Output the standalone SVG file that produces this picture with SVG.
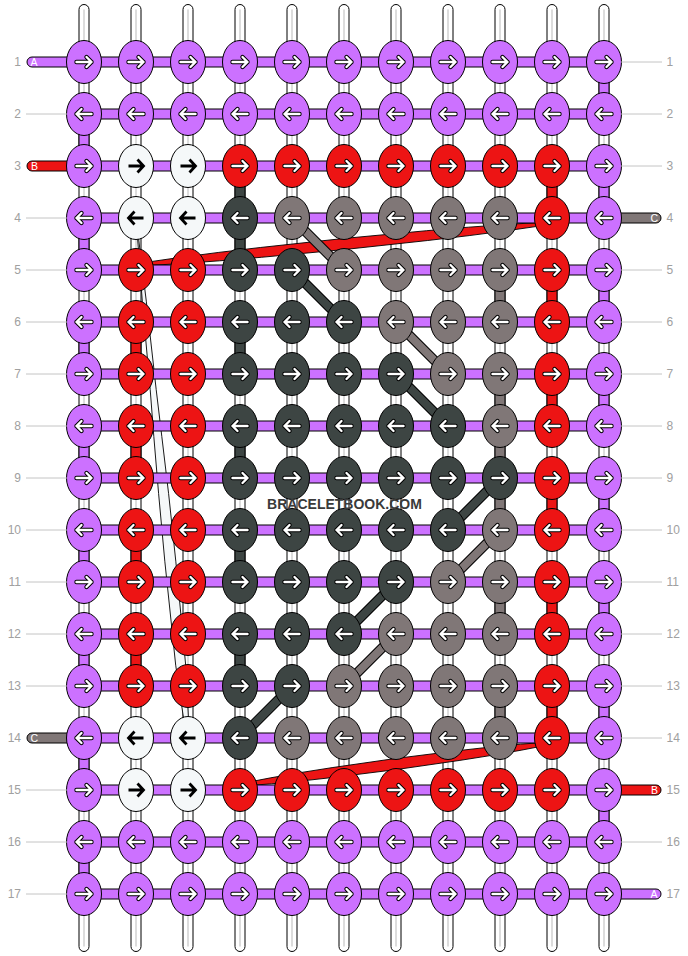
<svg xmlns="http://www.w3.org/2000/svg" width="688" height="956" viewBox="0 0 688 956">
<style>
.kP{fill:#cc71ff}.kR{fill:#ed1414}.kG{fill:#807777}.kD{fill:#3d4543}.kW{fill:#f5f8f9}
ellipse{stroke:#000;stroke-width:1}
.h{fill:#cc71ff;stroke:#000;stroke-width:1}
.hr{fill:#ed1414;stroke:#000;stroke-width:1}
.hg{fill:#807777;stroke:#000;stroke-width:1}
.pipe{fill:#fff;stroke:#000;stroke-width:1}
.pl{stroke:#d0d0d0;stroke-width:1.5}
.v{stroke:#000;stroke-width:1}
.num{font-family:"Liberation Sans",Arial,sans-serif;font-size:12px;fill:#a0a0a0}
.ln{stroke:#c4c4c4;stroke-width:1}
.lab{font-family:"Liberation Sans",Arial,sans-serif;font-size:10.5px;fill:#fff}
.wm{font-family:"Liberation Sans",Arial,sans-serif;font-size:14px;font-weight:bold;fill:#3a3a3a}
.bo{stroke:#000;stroke-width:10}
.bi{stroke-width:8}
.lens{stroke:#000;stroke-width:0.9}
.ao{stroke:#000;stroke-width:4.4;stroke-linecap:round;stroke-linejoin:round}
.ai{stroke:#fff;stroke-width:2.4;stroke-linecap:round;stroke-linejoin:round}
.ab{stroke:#000;stroke-width:2.8;fill:none}
</style>
<defs>
<path id="a" d="M-7.5,0H7.5M2.5,-5L7.5,0L2.5,5" fill="none"/>
<path id="b" d="M-7.5,0H7M1.5,-6.5L7.5,0L1.5,6.5" fill="none"/>
<g id="ar"><use href="#a" class="ao"/><use href="#a" class="ai"/></g>
<g id="al" transform="scale(-1,1)"><use href="#a" class="ao"/><use href="#a" class="ai"/></g>
<g id="br"><use href="#b" class="ab"/></g>
<g id="bl" transform="scale(-1,1)"><use href="#b" class="ab"/></g>
</defs>

<g id="warps">
<rect class="pipe" x="79" y="4.5" width="10" height="947" rx="5"/><line class="pl" x1="84" y1="9.5" x2="84" y2="946.5"/>
<rect class="pipe" x="131" y="4.5" width="10" height="947" rx="5"/><line class="pl" x1="136" y1="9.5" x2="136" y2="946.5"/>
<rect class="pipe" x="183" y="4.5" width="10" height="947" rx="5"/><line class="pl" x1="188" y1="9.5" x2="188" y2="946.5"/>
<rect class="pipe" x="235" y="4.5" width="10" height="947" rx="5"/><line class="pl" x1="240" y1="9.5" x2="240" y2="946.5"/>
<rect class="pipe" x="287" y="4.5" width="10" height="947" rx="5"/><line class="pl" x1="292" y1="9.5" x2="292" y2="946.5"/>
<rect class="pipe" x="339" y="4.5" width="10" height="947" rx="5"/><line class="pl" x1="344" y1="9.5" x2="344" y2="946.5"/>
<rect class="pipe" x="391" y="4.5" width="10" height="947" rx="5"/><line class="pl" x1="396" y1="9.5" x2="396" y2="946.5"/>
<rect class="pipe" x="443" y="4.5" width="10" height="947" rx="5"/><line class="pl" x1="448" y1="9.5" x2="448" y2="946.5"/>
<rect class="pipe" x="495" y="4.5" width="10" height="947" rx="5"/><line class="pl" x1="500" y1="9.5" x2="500" y2="946.5"/>
<rect class="pipe" x="547" y="4.5" width="10" height="947" rx="5"/><line class="pl" x1="552" y1="9.5" x2="552" y2="946.5"/>
<rect class="pipe" x="599" y="4.5" width="10" height="947" rx="5"/><line class="pl" x1="604" y1="9.5" x2="604" y2="946.5"/>
</g>

<g id="connectors">
<g fill="#cc71ff" class="v">
<rect x="599" y="77" width="10" height="22"/><rect x="599" y="181" width="10" height="22"/><rect x="599" y="285" width="10" height="22"/><rect x="599" y="389" width="10" height="22"/><rect x="599" y="493" width="10" height="22"/><rect x="599" y="597" width="10" height="22"/><rect x="599" y="701" width="10" height="22"/><rect x="599" y="805" width="10" height="22"/>
<rect x="79" y="129" width="10" height="22"/><rect x="79" y="233" width="10" height="22"/><rect x="79" y="337" width="10" height="22"/><rect x="79" y="441" width="10" height="22"/><rect x="79" y="545" width="10" height="22"/><rect x="79" y="649" width="10" height="22"/><rect x="79" y="753" width="10" height="22"/><rect x="79" y="857" width="10" height="22"/>
</g>
<g fill="#ed1414" class="v">
<rect x="547" y="181" width="10" height="22"/><rect x="547" y="285" width="10" height="22"/><rect x="547" y="389" width="10" height="22"/><rect x="547" y="493" width="10" height="22"/><rect x="547" y="597" width="10" height="22"/><rect x="547" y="701" width="10" height="22"/>
<rect x="131" y="337" width="10" height="22"/><rect x="131" y="441" width="10" height="22"/><rect x="131" y="545" width="10" height="22"/><rect x="131" y="649" width="10" height="22"/>
</g>
<g fill="#3d4543" class="v">
<rect x="235" y="181" width="10" height="22"/><rect x="235" y="233" width="10" height="22"/><rect x="235" y="337" width="10" height="22"/><rect x="235" y="441" width="10" height="22"/><rect x="235" y="545" width="10" height="22"/><rect x="235" y="649" width="10" height="22"/>
</g>
<g fill="#807777" class="v">
<rect x="495" y="285" width="10" height="22"/><rect x="495" y="389" width="10" height="22"/><rect x="495" y="441" width="10" height="22"/><rect x="495" y="493" width="10" height="22"/><rect x="495" y="597" width="10" height="22"/><rect x="495" y="701" width="10" height="22"/>
</g>

<g transform="translate(0,1)">
<path class="lens" fill="#f5f8f9" d="M136,217 L137.6,237.8 L142.3,300.2 L150.2,388.6 L153.8,435.4 L158.6,492.6 L164.8,560.2 L175.7,664.2 L183.4,716.2 L188,737 L188.4,716.2 L185.7,664.2 L175.8,560.2 L168.6,492.6 L161.8,435.4 L156.2,388.6 L146.3,300.2 L138.6,237.8 Z"/>
<path class="lens" fill="#ed1414" d="M136,264 L152.4,260.4 L177.3,256.8 L218.8,251.4 L260.3,246.5 L343.4,237.5 L426.7,229.7 L468.4,226.2 L510.1,223.2 L535.2,221.8 L552,222 L535.6,225.6 L510.7,229.2 L469.2,234.6 L427.7,239.5 L344.6,248.5 L261.3,256.3 L219.6,259.8 L177.9,262.8 L152.8,264.2 Z"/>
<path class="lens" fill="#ed1414" d="M240,784 L252.2,780.4 L270.8,776.8 L301.8,771.4 L332.9,766.5 L395.3,757.5 L457.7,749.7 L489,746.2 L520.4,743.2 L539.2,741.8 L552,742 L539.8,745.6 L521.2,749.2 L490.2,754.6 L459.1,759.5 L396.7,768.5 L334.3,776.3 L303,779.8 L271.6,782.8 L252.8,784.2 Z"/>
</g>

<g class="bo">
<line x1="292" y1="218" x2="344" y2="270"/><line x1="396" y1="322" x2="448" y2="374"/>
<line x1="292" y1="270" x2="344" y2="322"/><line x1="396" y1="374" x2="448" y2="426"/>
<line x1="500" y1="478" x2="448" y2="530"/><line x1="396" y1="582" x2="344" y2="634"/><line x1="292" y1="686" x2="240" y2="738"/>
<line x1="500" y1="530" x2="448" y2="582"/><line x1="396" y1="634" x2="344" y2="686"/>
</g>
<g class="bi" stroke="#807777">
<line x1="292" y1="218" x2="344" y2="270"/><line x1="396" y1="322" x2="448" y2="374"/>
<line x1="500" y1="530" x2="448" y2="582"/><line x1="396" y1="634" x2="344" y2="686"/>
</g>
<g class="bi" stroke="#3d4543">
<line x1="292" y1="270" x2="344" y2="322"/><line x1="396" y1="374" x2="448" y2="426"/>
<line x1="500" y1="478" x2="448" y2="530"/><line x1="396" y1="582" x2="344" y2="634"/><line x1="292" y1="686" x2="240" y2="738"/>
</g>

<g id="rows">
<rect class="h" x="84" y="57" width="520" height="10"/>
<rect class="h" x="84" y="109" width="520" height="10"/>
<rect class="h" x="84" y="161" width="520" height="10"/>
<rect class="h" x="84" y="213" width="520" height="10"/>
<rect class="h" x="84" y="265" width="520" height="10"/>
<rect class="h" x="84" y="317" width="520" height="10"/>
<rect class="h" x="84" y="369" width="520" height="10"/>
<rect class="h" x="84" y="421" width="520" height="10"/>
<rect class="h" x="84" y="473" width="520" height="10"/>
<rect class="h" x="84" y="525" width="520" height="10"/>
<rect class="h" x="84" y="577" width="520" height="10"/>
<rect class="h" x="84" y="629" width="520" height="10"/>
<rect class="h" x="84" y="681" width="520" height="10"/>
<rect class="h" x="84" y="733" width="520" height="10"/>
<rect class="h" x="84" y="785" width="520" height="10"/>
<rect class="h" x="84" y="837" width="520" height="10"/>
<rect class="h" x="84" y="889" width="520" height="10"/>
</g>
<g id="stubs">
<rect class="h" x="27" y="57" width="50" height="10" rx="5"/>
<rect class="hr" x="27" y="161" width="50" height="10" rx="5"/>
<rect class="hg" x="27" y="733" width="50" height="10" rx="5"/>
<rect class="hg" x="611" y="213" width="50" height="10" rx="5"/>
<rect class="hr" x="611" y="785" width="50" height="10" rx="5"/>
<rect class="h" x="611" y="889" width="50" height="10" rx="5"/>
</g>
</g>

<g id="knots">
<g id="k1-1"><ellipse class="kP" cx="84" cy="62" rx="17.5" ry="21.5"/><use href="#ar" x="84" y="62"/></g>
<g id="k1-2"><ellipse class="kP" cx="136" cy="62" rx="17.5" ry="21.5"/><use href="#ar" x="136" y="62"/></g>
<g id="k1-3"><ellipse class="kP" cx="188" cy="62" rx="17.5" ry="21.5"/><use href="#ar" x="188" y="62"/></g>
<g id="k1-4"><ellipse class="kP" cx="240" cy="62" rx="17.5" ry="21.5"/><use href="#ar" x="240" y="62"/></g>
<g id="k1-5"><ellipse class="kP" cx="292" cy="62" rx="17.5" ry="21.5"/><use href="#ar" x="292" y="62"/></g>
<g id="k1-6"><ellipse class="kP" cx="344" cy="62" rx="17.5" ry="21.5"/><use href="#ar" x="344" y="62"/></g>
<g id="k1-7"><ellipse class="kP" cx="396" cy="62" rx="17.5" ry="21.5"/><use href="#ar" x="396" y="62"/></g>
<g id="k1-8"><ellipse class="kP" cx="448" cy="62" rx="17.5" ry="21.5"/><use href="#ar" x="448" y="62"/></g>
<g id="k1-9"><ellipse class="kP" cx="500" cy="62" rx="17.5" ry="21.5"/><use href="#ar" x="500" y="62"/></g>
<g id="k1-10"><ellipse class="kP" cx="552" cy="62" rx="17.5" ry="21.5"/><use href="#ar" x="552" y="62"/></g>
<g id="k1-11"><ellipse class="kP" cx="604" cy="62" rx="17.5" ry="21.5"/><use href="#ar" x="604" y="62"/></g>

<g id="k2-1"><ellipse class="kP" cx="84" cy="114" rx="17.5" ry="21.5"/><use href="#al" x="84" y="114"/></g>
<g id="k2-2"><ellipse class="kP" cx="136" cy="114" rx="17.5" ry="21.5"/><use href="#al" x="136" y="114"/></g>
<g id="k2-3"><ellipse class="kP" cx="188" cy="114" rx="17.5" ry="21.5"/><use href="#al" x="188" y="114"/></g>
<g id="k2-4"><ellipse class="kP" cx="240" cy="114" rx="17.5" ry="21.5"/><use href="#al" x="240" y="114"/></g>
<g id="k2-5"><ellipse class="kP" cx="292" cy="114" rx="17.5" ry="21.5"/><use href="#al" x="292" y="114"/></g>
<g id="k2-6"><ellipse class="kP" cx="344" cy="114" rx="17.5" ry="21.5"/><use href="#al" x="344" y="114"/></g>
<g id="k2-7"><ellipse class="kP" cx="396" cy="114" rx="17.5" ry="21.5"/><use href="#al" x="396" y="114"/></g>
<g id="k2-8"><ellipse class="kP" cx="448" cy="114" rx="17.5" ry="21.5"/><use href="#al" x="448" y="114"/></g>
<g id="k2-9"><ellipse class="kP" cx="500" cy="114" rx="17.5" ry="21.5"/><use href="#al" x="500" y="114"/></g>
<g id="k2-10"><ellipse class="kP" cx="552" cy="114" rx="17.5" ry="21.5"/><use href="#al" x="552" y="114"/></g>
<g id="k2-11"><ellipse class="kP" cx="604" cy="114" rx="17.5" ry="21.5"/><use href="#al" x="604" y="114"/></g>

<g id="k3-1"><ellipse class="kP" cx="84" cy="166" rx="17.5" ry="21.5"/><use href="#ar" x="84" y="166"/></g>
<g id="k3-2"><ellipse class="kW" cx="136" cy="166" rx="17.5" ry="21.5"/><use href="#br" x="136" y="166"/></g>
<g id="k3-3"><ellipse class="kW" cx="188" cy="166" rx="17.5" ry="21.5"/><use href="#br" x="188" y="166"/></g>
<g id="k3-4"><ellipse class="kR" cx="240" cy="166" rx="17.5" ry="21.5"/><use href="#ar" x="240" y="166"/></g>
<g id="k3-5"><ellipse class="kR" cx="292" cy="166" rx="17.5" ry="21.5"/><use href="#ar" x="292" y="166"/></g>
<g id="k3-6"><ellipse class="kR" cx="344" cy="166" rx="17.5" ry="21.5"/><use href="#ar" x="344" y="166"/></g>
<g id="k3-7"><ellipse class="kR" cx="396" cy="166" rx="17.5" ry="21.5"/><use href="#ar" x="396" y="166"/></g>
<g id="k3-8"><ellipse class="kR" cx="448" cy="166" rx="17.5" ry="21.5"/><use href="#ar" x="448" y="166"/></g>
<g id="k3-9"><ellipse class="kR" cx="500" cy="166" rx="17.5" ry="21.5"/><use href="#ar" x="500" y="166"/></g>
<g id="k3-10"><ellipse class="kR" cx="552" cy="166" rx="17.5" ry="21.5"/><use href="#ar" x="552" y="166"/></g>
<g id="k3-11"><ellipse class="kP" cx="604" cy="166" rx="17.5" ry="21.5"/><use href="#ar" x="604" y="166"/></g>

<g id="k4-1"><ellipse class="kP" cx="84" cy="218" rx="17.5" ry="21.5"/><use href="#al" x="84" y="218"/></g>
<g id="k4-2"><ellipse class="kW" cx="136" cy="218" rx="17.5" ry="21.5"/><use href="#bl" x="136" y="218"/></g>
<g id="k4-3"><ellipse class="kW" cx="188" cy="218" rx="17.5" ry="21.5"/><use href="#bl" x="188" y="218"/></g>
<g id="k4-4"><ellipse class="kD" cx="240" cy="218" rx="17.5" ry="21.5"/><use href="#al" x="240" y="218"/></g>
<g id="k4-5"><ellipse class="kG" cx="292" cy="218" rx="17.5" ry="21.5"/><use href="#al" x="292" y="218"/></g>
<g id="k4-6"><ellipse class="kG" cx="344" cy="218" rx="17.5" ry="21.5"/><use href="#al" x="344" y="218"/></g>
<g id="k4-7"><ellipse class="kG" cx="396" cy="218" rx="17.5" ry="21.5"/><use href="#al" x="396" y="218"/></g>
<g id="k4-8"><ellipse class="kG" cx="448" cy="218" rx="17.5" ry="21.5"/><use href="#al" x="448" y="218"/></g>
<g id="k4-9"><ellipse class="kG" cx="500" cy="218" rx="17.5" ry="21.5"/><use href="#al" x="500" y="218"/></g>
<g id="k4-10"><ellipse class="kR" cx="552" cy="218" rx="17.5" ry="21.5"/><use href="#al" x="552" y="218"/></g>
<g id="k4-11"><ellipse class="kP" cx="604" cy="218" rx="17.5" ry="21.5"/><use href="#al" x="604" y="218"/></g>

<g id="k5-1"><ellipse class="kP" cx="84" cy="270" rx="17.5" ry="21.5"/><use href="#ar" x="84" y="270"/></g>
<g id="k5-2"><ellipse class="kR" cx="136" cy="270" rx="17.5" ry="21.5"/><use href="#ar" x="136" y="270"/></g>
<g id="k5-3"><ellipse class="kR" cx="188" cy="270" rx="17.5" ry="21.5"/><use href="#ar" x="188" y="270"/></g>
<g id="k5-4"><ellipse class="kD" cx="240" cy="270" rx="17.5" ry="21.5"/><use href="#ar" x="240" y="270"/></g>
<g id="k5-5"><ellipse class="kD" cx="292" cy="270" rx="17.5" ry="21.5"/><use href="#ar" x="292" y="270"/></g>
<g id="k5-6"><ellipse class="kG" cx="344" cy="270" rx="17.5" ry="21.5"/><use href="#ar" x="344" y="270"/></g>
<g id="k5-7"><ellipse class="kG" cx="396" cy="270" rx="17.5" ry="21.5"/><use href="#ar" x="396" y="270"/></g>
<g id="k5-8"><ellipse class="kG" cx="448" cy="270" rx="17.5" ry="21.5"/><use href="#ar" x="448" y="270"/></g>
<g id="k5-9"><ellipse class="kG" cx="500" cy="270" rx="17.5" ry="21.5"/><use href="#ar" x="500" y="270"/></g>
<g id="k5-10"><ellipse class="kR" cx="552" cy="270" rx="17.5" ry="21.5"/><use href="#ar" x="552" y="270"/></g>
<g id="k5-11"><ellipse class="kP" cx="604" cy="270" rx="17.5" ry="21.5"/><use href="#ar" x="604" y="270"/></g>

<g id="k6-1"><ellipse class="kP" cx="84" cy="322" rx="17.5" ry="21.5"/><use href="#al" x="84" y="322"/></g>
<g id="k6-2"><ellipse class="kR" cx="136" cy="322" rx="17.5" ry="21.5"/><use href="#al" x="136" y="322"/></g>
<g id="k6-3"><ellipse class="kR" cx="188" cy="322" rx="17.5" ry="21.5"/><use href="#al" x="188" y="322"/></g>
<g id="k6-4"><ellipse class="kD" cx="240" cy="322" rx="17.5" ry="21.5"/><use href="#al" x="240" y="322"/></g>
<g id="k6-5"><ellipse class="kD" cx="292" cy="322" rx="17.5" ry="21.5"/><use href="#al" x="292" y="322"/></g>
<g id="k6-6"><ellipse class="kD" cx="344" cy="322" rx="17.5" ry="21.5"/><use href="#al" x="344" y="322"/></g>
<g id="k6-7"><ellipse class="kG" cx="396" cy="322" rx="17.5" ry="21.5"/><use href="#al" x="396" y="322"/></g>
<g id="k6-8"><ellipse class="kG" cx="448" cy="322" rx="17.5" ry="21.5"/><use href="#al" x="448" y="322"/></g>
<g id="k6-9"><ellipse class="kG" cx="500" cy="322" rx="17.5" ry="21.5"/><use href="#al" x="500" y="322"/></g>
<g id="k6-10"><ellipse class="kR" cx="552" cy="322" rx="17.5" ry="21.5"/><use href="#al" x="552" y="322"/></g>
<g id="k6-11"><ellipse class="kP" cx="604" cy="322" rx="17.5" ry="21.5"/><use href="#al" x="604" y="322"/></g>

<g id="k7-1"><ellipse class="kP" cx="84" cy="374" rx="17.5" ry="21.5"/><use href="#ar" x="84" y="374"/></g>
<g id="k7-2"><ellipse class="kR" cx="136" cy="374" rx="17.5" ry="21.5"/><use href="#ar" x="136" y="374"/></g>
<g id="k7-3"><ellipse class="kR" cx="188" cy="374" rx="17.5" ry="21.5"/><use href="#ar" x="188" y="374"/></g>
<g id="k7-4"><ellipse class="kD" cx="240" cy="374" rx="17.5" ry="21.5"/><use href="#ar" x="240" y="374"/></g>
<g id="k7-5"><ellipse class="kD" cx="292" cy="374" rx="17.5" ry="21.5"/><use href="#ar" x="292" y="374"/></g>
<g id="k7-6"><ellipse class="kD" cx="344" cy="374" rx="17.5" ry="21.5"/><use href="#ar" x="344" y="374"/></g>
<g id="k7-7"><ellipse class="kD" cx="396" cy="374" rx="17.5" ry="21.5"/><use href="#ar" x="396" y="374"/></g>
<g id="k7-8"><ellipse class="kG" cx="448" cy="374" rx="17.5" ry="21.5"/><use href="#ar" x="448" y="374"/></g>
<g id="k7-9"><ellipse class="kG" cx="500" cy="374" rx="17.5" ry="21.5"/><use href="#ar" x="500" y="374"/></g>
<g id="k7-10"><ellipse class="kR" cx="552" cy="374" rx="17.5" ry="21.5"/><use href="#ar" x="552" y="374"/></g>
<g id="k7-11"><ellipse class="kP" cx="604" cy="374" rx="17.5" ry="21.5"/><use href="#ar" x="604" y="374"/></g>

<g id="k8-1"><ellipse class="kP" cx="84" cy="426" rx="17.5" ry="21.5"/><use href="#al" x="84" y="426"/></g>
<g id="k8-2"><ellipse class="kR" cx="136" cy="426" rx="17.5" ry="21.5"/><use href="#al" x="136" y="426"/></g>
<g id="k8-3"><ellipse class="kR" cx="188" cy="426" rx="17.5" ry="21.5"/><use href="#al" x="188" y="426"/></g>
<g id="k8-4"><ellipse class="kD" cx="240" cy="426" rx="17.5" ry="21.5"/><use href="#al" x="240" y="426"/></g>
<g id="k8-5"><ellipse class="kD" cx="292" cy="426" rx="17.5" ry="21.5"/><use href="#al" x="292" y="426"/></g>
<g id="k8-6"><ellipse class="kD" cx="344" cy="426" rx="17.5" ry="21.5"/><use href="#al" x="344" y="426"/></g>
<g id="k8-7"><ellipse class="kD" cx="396" cy="426" rx="17.5" ry="21.5"/><use href="#al" x="396" y="426"/></g>
<g id="k8-8"><ellipse class="kD" cx="448" cy="426" rx="17.5" ry="21.5"/><use href="#al" x="448" y="426"/></g>
<g id="k8-9"><ellipse class="kG" cx="500" cy="426" rx="17.5" ry="21.5"/><use href="#al" x="500" y="426"/></g>
<g id="k8-10"><ellipse class="kR" cx="552" cy="426" rx="17.5" ry="21.5"/><use href="#al" x="552" y="426"/></g>
<g id="k8-11"><ellipse class="kP" cx="604" cy="426" rx="17.5" ry="21.5"/><use href="#al" x="604" y="426"/></g>

<g id="k9-1"><ellipse class="kP" cx="84" cy="478" rx="17.5" ry="21.5"/><use href="#ar" x="84" y="478"/></g>
<g id="k9-2"><ellipse class="kR" cx="136" cy="478" rx="17.5" ry="21.5"/><use href="#ar" x="136" y="478"/></g>
<g id="k9-3"><ellipse class="kR" cx="188" cy="478" rx="17.5" ry="21.5"/><use href="#ar" x="188" y="478"/></g>
<g id="k9-4"><ellipse class="kD" cx="240" cy="478" rx="17.5" ry="21.5"/><use href="#ar" x="240" y="478"/></g>
<g id="k9-5"><ellipse class="kD" cx="292" cy="478" rx="17.5" ry="21.5"/><use href="#ar" x="292" y="478"/></g>
<g id="k9-6"><ellipse class="kD" cx="344" cy="478" rx="17.5" ry="21.5"/><use href="#ar" x="344" y="478"/></g>
<g id="k9-7"><ellipse class="kD" cx="396" cy="478" rx="17.5" ry="21.5"/><use href="#ar" x="396" y="478"/></g>
<g id="k9-8"><ellipse class="kD" cx="448" cy="478" rx="17.5" ry="21.5"/><use href="#ar" x="448" y="478"/></g>
<g id="k9-9"><ellipse class="kD" cx="500" cy="478" rx="17.5" ry="21.5"/><use href="#ar" x="500" y="478"/></g>
<g id="k9-10"><ellipse class="kR" cx="552" cy="478" rx="17.5" ry="21.5"/><use href="#ar" x="552" y="478"/></g>
<g id="k9-11"><ellipse class="kP" cx="604" cy="478" rx="17.5" ry="21.5"/><use href="#ar" x="604" y="478"/></g>

<g id="k10-1"><ellipse class="kP" cx="84" cy="530" rx="17.5" ry="21.5"/><use href="#al" x="84" y="530"/></g>
<g id="k10-2"><ellipse class="kR" cx="136" cy="530" rx="17.5" ry="21.5"/><use href="#al" x="136" y="530"/></g>
<g id="k10-3"><ellipse class="kR" cx="188" cy="530" rx="17.5" ry="21.5"/><use href="#al" x="188" y="530"/></g>
<g id="k10-4"><ellipse class="kD" cx="240" cy="530" rx="17.5" ry="21.5"/><use href="#al" x="240" y="530"/></g>
<g id="k10-5"><ellipse class="kD" cx="292" cy="530" rx="17.5" ry="21.5"/><use href="#al" x="292" y="530"/></g>
<g id="k10-6"><ellipse class="kD" cx="344" cy="530" rx="17.5" ry="21.5"/><use href="#al" x="344" y="530"/></g>
<g id="k10-7"><ellipse class="kD" cx="396" cy="530" rx="17.5" ry="21.5"/><use href="#al" x="396" y="530"/></g>
<g id="k10-8"><ellipse class="kD" cx="448" cy="530" rx="17.5" ry="21.5"/><use href="#al" x="448" y="530"/></g>
<g id="k10-9"><ellipse class="kG" cx="500" cy="530" rx="17.5" ry="21.5"/><use href="#al" x="500" y="530"/></g>
<g id="k10-10"><ellipse class="kR" cx="552" cy="530" rx="17.5" ry="21.5"/><use href="#al" x="552" y="530"/></g>
<g id="k10-11"><ellipse class="kP" cx="604" cy="530" rx="17.5" ry="21.5"/><use href="#al" x="604" y="530"/></g>

<g id="k11-1"><ellipse class="kP" cx="84" cy="582" rx="17.5" ry="21.5"/><use href="#ar" x="84" y="582"/></g>
<g id="k11-2"><ellipse class="kR" cx="136" cy="582" rx="17.5" ry="21.5"/><use href="#ar" x="136" y="582"/></g>
<g id="k11-3"><ellipse class="kR" cx="188" cy="582" rx="17.5" ry="21.5"/><use href="#ar" x="188" y="582"/></g>
<g id="k11-4"><ellipse class="kD" cx="240" cy="582" rx="17.5" ry="21.5"/><use href="#ar" x="240" y="582"/></g>
<g id="k11-5"><ellipse class="kD" cx="292" cy="582" rx="17.5" ry="21.5"/><use href="#ar" x="292" y="582"/></g>
<g id="k11-6"><ellipse class="kD" cx="344" cy="582" rx="17.5" ry="21.5"/><use href="#ar" x="344" y="582"/></g>
<g id="k11-7"><ellipse class="kD" cx="396" cy="582" rx="17.5" ry="21.5"/><use href="#ar" x="396" y="582"/></g>
<g id="k11-8"><ellipse class="kG" cx="448" cy="582" rx="17.5" ry="21.5"/><use href="#ar" x="448" y="582"/></g>
<g id="k11-9"><ellipse class="kG" cx="500" cy="582" rx="17.5" ry="21.5"/><use href="#ar" x="500" y="582"/></g>
<g id="k11-10"><ellipse class="kR" cx="552" cy="582" rx="17.5" ry="21.5"/><use href="#ar" x="552" y="582"/></g>
<g id="k11-11"><ellipse class="kP" cx="604" cy="582" rx="17.5" ry="21.5"/><use href="#ar" x="604" y="582"/></g>

<g id="k12-1"><ellipse class="kP" cx="84" cy="634" rx="17.5" ry="21.5"/><use href="#al" x="84" y="634"/></g>
<g id="k12-2"><ellipse class="kR" cx="136" cy="634" rx="17.5" ry="21.5"/><use href="#al" x="136" y="634"/></g>
<g id="k12-3"><ellipse class="kR" cx="188" cy="634" rx="17.5" ry="21.5"/><use href="#al" x="188" y="634"/></g>
<g id="k12-4"><ellipse class="kD" cx="240" cy="634" rx="17.5" ry="21.5"/><use href="#al" x="240" y="634"/></g>
<g id="k12-5"><ellipse class="kD" cx="292" cy="634" rx="17.5" ry="21.5"/><use href="#al" x="292" y="634"/></g>
<g id="k12-6"><ellipse class="kD" cx="344" cy="634" rx="17.5" ry="21.5"/><use href="#al" x="344" y="634"/></g>
<g id="k12-7"><ellipse class="kG" cx="396" cy="634" rx="17.5" ry="21.5"/><use href="#al" x="396" y="634"/></g>
<g id="k12-8"><ellipse class="kG" cx="448" cy="634" rx="17.5" ry="21.5"/><use href="#al" x="448" y="634"/></g>
<g id="k12-9"><ellipse class="kG" cx="500" cy="634" rx="17.5" ry="21.5"/><use href="#al" x="500" y="634"/></g>
<g id="k12-10"><ellipse class="kR" cx="552" cy="634" rx="17.5" ry="21.5"/><use href="#al" x="552" y="634"/></g>
<g id="k12-11"><ellipse class="kP" cx="604" cy="634" rx="17.5" ry="21.5"/><use href="#al" x="604" y="634"/></g>

<g id="k13-1"><ellipse class="kP" cx="84" cy="686" rx="17.5" ry="21.5"/><use href="#ar" x="84" y="686"/></g>
<g id="k13-2"><ellipse class="kR" cx="136" cy="686" rx="17.5" ry="21.5"/><use href="#ar" x="136" y="686"/></g>
<g id="k13-3"><ellipse class="kR" cx="188" cy="686" rx="17.5" ry="21.5"/><use href="#ar" x="188" y="686"/></g>
<g id="k13-4"><ellipse class="kD" cx="240" cy="686" rx="17.5" ry="21.5"/><use href="#ar" x="240" y="686"/></g>
<g id="k13-5"><ellipse class="kD" cx="292" cy="686" rx="17.5" ry="21.5"/><use href="#ar" x="292" y="686"/></g>
<g id="k13-6"><ellipse class="kG" cx="344" cy="686" rx="17.5" ry="21.5"/><use href="#ar" x="344" y="686"/></g>
<g id="k13-7"><ellipse class="kG" cx="396" cy="686" rx="17.5" ry="21.5"/><use href="#ar" x="396" y="686"/></g>
<g id="k13-8"><ellipse class="kG" cx="448" cy="686" rx="17.5" ry="21.5"/><use href="#ar" x="448" y="686"/></g>
<g id="k13-9"><ellipse class="kG" cx="500" cy="686" rx="17.5" ry="21.5"/><use href="#ar" x="500" y="686"/></g>
<g id="k13-10"><ellipse class="kR" cx="552" cy="686" rx="17.5" ry="21.5"/><use href="#ar" x="552" y="686"/></g>
<g id="k13-11"><ellipse class="kP" cx="604" cy="686" rx="17.5" ry="21.5"/><use href="#ar" x="604" y="686"/></g>

<g id="k14-1"><ellipse class="kP" cx="84" cy="738" rx="17.5" ry="21.5"/><use href="#al" x="84" y="738"/></g>
<g id="k14-2"><ellipse class="kW" cx="136" cy="738" rx="17.5" ry="21.5"/><use href="#bl" x="136" y="738"/></g>
<g id="k14-3"><ellipse class="kW" cx="188" cy="738" rx="17.5" ry="21.5"/><use href="#bl" x="188" y="738"/></g>
<g id="k14-4"><ellipse class="kD" cx="240" cy="738" rx="17.5" ry="21.5"/><use href="#al" x="240" y="738"/></g>
<g id="k14-5"><ellipse class="kG" cx="292" cy="738" rx="17.5" ry="21.5"/><use href="#al" x="292" y="738"/></g>
<g id="k14-6"><ellipse class="kG" cx="344" cy="738" rx="17.5" ry="21.5"/><use href="#al" x="344" y="738"/></g>
<g id="k14-7"><ellipse class="kG" cx="396" cy="738" rx="17.5" ry="21.5"/><use href="#al" x="396" y="738"/></g>
<g id="k14-8"><ellipse class="kG" cx="448" cy="738" rx="17.5" ry="21.5"/><use href="#al" x="448" y="738"/></g>
<g id="k14-9"><ellipse class="kG" cx="500" cy="738" rx="17.5" ry="21.5"/><use href="#al" x="500" y="738"/></g>
<g id="k14-10"><ellipse class="kR" cx="552" cy="738" rx="17.5" ry="21.5"/><use href="#al" x="552" y="738"/></g>
<g id="k14-11"><ellipse class="kP" cx="604" cy="738" rx="17.5" ry="21.5"/><use href="#al" x="604" y="738"/></g>

<g id="k15-1"><ellipse class="kP" cx="84" cy="790" rx="17.5" ry="21.5"/><use href="#ar" x="84" y="790"/></g>
<g id="k15-2"><ellipse class="kW" cx="136" cy="790" rx="17.5" ry="21.5"/><use href="#br" x="136" y="790"/></g>
<g id="k15-3"><ellipse class="kW" cx="188" cy="790" rx="17.5" ry="21.5"/><use href="#br" x="188" y="790"/></g>
<g id="k15-4"><ellipse class="kR" cx="240" cy="790" rx="17.5" ry="21.5"/><use href="#ar" x="240" y="790"/></g>
<g id="k15-5"><ellipse class="kR" cx="292" cy="790" rx="17.5" ry="21.5"/><use href="#ar" x="292" y="790"/></g>
<g id="k15-6"><ellipse class="kR" cx="344" cy="790" rx="17.5" ry="21.5"/><use href="#ar" x="344" y="790"/></g>
<g id="k15-7"><ellipse class="kR" cx="396" cy="790" rx="17.5" ry="21.5"/><use href="#ar" x="396" y="790"/></g>
<g id="k15-8"><ellipse class="kR" cx="448" cy="790" rx="17.5" ry="21.5"/><use href="#ar" x="448" y="790"/></g>
<g id="k15-9"><ellipse class="kR" cx="500" cy="790" rx="17.5" ry="21.5"/><use href="#ar" x="500" y="790"/></g>
<g id="k15-10"><ellipse class="kR" cx="552" cy="790" rx="17.5" ry="21.5"/><use href="#ar" x="552" y="790"/></g>
<g id="k15-11"><ellipse class="kP" cx="604" cy="790" rx="17.5" ry="21.5"/><use href="#ar" x="604" y="790"/></g>

<g id="k16-1"><ellipse class="kP" cx="84" cy="842" rx="17.5" ry="21.5"/><use href="#al" x="84" y="842"/></g>
<g id="k16-2"><ellipse class="kP" cx="136" cy="842" rx="17.5" ry="21.5"/><use href="#al" x="136" y="842"/></g>
<g id="k16-3"><ellipse class="kP" cx="188" cy="842" rx="17.5" ry="21.5"/><use href="#al" x="188" y="842"/></g>
<g id="k16-4"><ellipse class="kP" cx="240" cy="842" rx="17.5" ry="21.5"/><use href="#al" x="240" y="842"/></g>
<g id="k16-5"><ellipse class="kP" cx="292" cy="842" rx="17.5" ry="21.5"/><use href="#al" x="292" y="842"/></g>
<g id="k16-6"><ellipse class="kP" cx="344" cy="842" rx="17.5" ry="21.5"/><use href="#al" x="344" y="842"/></g>
<g id="k16-7"><ellipse class="kP" cx="396" cy="842" rx="17.5" ry="21.5"/><use href="#al" x="396" y="842"/></g>
<g id="k16-8"><ellipse class="kP" cx="448" cy="842" rx="17.5" ry="21.5"/><use href="#al" x="448" y="842"/></g>
<g id="k16-9"><ellipse class="kP" cx="500" cy="842" rx="17.5" ry="21.5"/><use href="#al" x="500" y="842"/></g>
<g id="k16-10"><ellipse class="kP" cx="552" cy="842" rx="17.5" ry="21.5"/><use href="#al" x="552" y="842"/></g>
<g id="k16-11"><ellipse class="kP" cx="604" cy="842" rx="17.5" ry="21.5"/><use href="#al" x="604" y="842"/></g>

<g id="k17-1"><ellipse class="kP" cx="84" cy="894" rx="17.5" ry="21.5"/><use href="#ar" x="84" y="894"/></g>
<g id="k17-2"><ellipse class="kP" cx="136" cy="894" rx="17.5" ry="21.5"/><use href="#ar" x="136" y="894"/></g>
<g id="k17-3"><ellipse class="kP" cx="188" cy="894" rx="17.5" ry="21.5"/><use href="#ar" x="188" y="894"/></g>
<g id="k17-4"><ellipse class="kP" cx="240" cy="894" rx="17.5" ry="21.5"/><use href="#ar" x="240" y="894"/></g>
<g id="k17-5"><ellipse class="kP" cx="292" cy="894" rx="17.5" ry="21.5"/><use href="#ar" x="292" y="894"/></g>
<g id="k17-6"><ellipse class="kP" cx="344" cy="894" rx="17.5" ry="21.5"/><use href="#ar" x="344" y="894"/></g>
<g id="k17-7"><ellipse class="kP" cx="396" cy="894" rx="17.5" ry="21.5"/><use href="#ar" x="396" y="894"/></g>
<g id="k17-8"><ellipse class="kP" cx="448" cy="894" rx="17.5" ry="21.5"/><use href="#ar" x="448" y="894"/></g>
<g id="k17-9"><ellipse class="kP" cx="500" cy="894" rx="17.5" ry="21.5"/><use href="#ar" x="500" y="894"/></g>
<g id="k17-10"><ellipse class="kP" cx="552" cy="894" rx="17.5" ry="21.5"/><use href="#ar" x="552" y="894"/></g>
<g id="k17-11"><ellipse class="kP" cx="604" cy="894" rx="17.5" ry="21.5"/><use href="#ar" x="604" y="894"/></g>
</g>

<g id="labels">
<g class="ln">
<line x1="26" y1="114" x2="67" y2="114"/><line x1="26" y1="218" x2="67" y2="218"/><line x1="26" y1="270" x2="67" y2="270"/><line x1="26" y1="322" x2="67" y2="322"/><line x1="26" y1="374" x2="67" y2="374"/><line x1="26" y1="426" x2="67" y2="426"/><line x1="26" y1="478" x2="67" y2="478"/><line x1="26" y1="530" x2="67" y2="530"/><line x1="26" y1="582" x2="67" y2="582"/><line x1="26" y1="634" x2="67" y2="634"/><line x1="26" y1="686" x2="67" y2="686"/><line x1="26" y1="790" x2="67" y2="790"/><line x1="26" y1="842" x2="67" y2="842"/><line x1="26" y1="894" x2="67" y2="894"/>
<line x1="621" y1="62" x2="662" y2="62"/><line x1="621" y1="114" x2="662" y2="114"/><line x1="621" y1="166" x2="662" y2="166"/><line x1="621" y1="270" x2="662" y2="270"/><line x1="621" y1="322" x2="662" y2="322"/><line x1="621" y1="374" x2="662" y2="374"/><line x1="621" y1="426" x2="662" y2="426"/><line x1="621" y1="478" x2="662" y2="478"/><line x1="621" y1="530" x2="662" y2="530"/><line x1="621" y1="582" x2="662" y2="582"/><line x1="621" y1="634" x2="662" y2="634"/><line x1="621" y1="686" x2="662" y2="686"/><line x1="621" y1="738" x2="662" y2="738"/><line x1="621" y1="842" x2="662" y2="842"/>
</g>
<g class="num" text-anchor="end">
<text x="21" y="66.3">1</text><text x="21" y="118.3">2</text><text x="21" y="170.3">3</text><text x="21" y="222.3">4</text><text x="21" y="274.3">5</text><text x="21" y="326.3">6</text><text x="21" y="378.3">7</text><text x="21" y="430.3">8</text><text x="21" y="482.3">9</text><text x="21" y="534.3">10</text><text x="21" y="586.3">11</text><text x="21" y="638.3">12</text><text x="21" y="690.3">13</text><text x="21" y="742.3">14</text><text x="21" y="794.3">15</text><text x="21" y="846.3">16</text><text x="21" y="898.3">17</text>
</g>
<g class="num">
<text x="666.5" y="66.3">1</text><text x="666.5" y="118.3">2</text><text x="666.5" y="170.3">3</text><text x="666.5" y="222.3">4</text><text x="666.5" y="274.3">5</text><text x="666.5" y="326.3">6</text><text x="666.5" y="378.3">7</text><text x="666.5" y="430.3">8</text><text x="666.5" y="482.3">9</text><text x="666.5" y="534.3">10</text><text x="666.5" y="586.3">11</text><text x="666.5" y="638.3">12</text><text x="666.5" y="690.3">13</text><text x="666.5" y="742.3">14</text><text x="666.5" y="794.3">15</text><text x="666.5" y="846.3">16</text><text x="666.5" y="898.3">17</text>
</g>
<g class="lab">
<text x="30.5" y="65.8">A</text><text x="31" y="169.8">B</text><text x="30.5" y="741.8">C</text>
<text x="650.5" y="221.8">C</text><text x="651" y="793.8">B</text><text x="650.5" y="897.8">A</text>
</g>
<text class="wm" x="344.5" y="509" text-anchor="middle">BRACELETBOOK.COM</text>
</g>
</svg>
